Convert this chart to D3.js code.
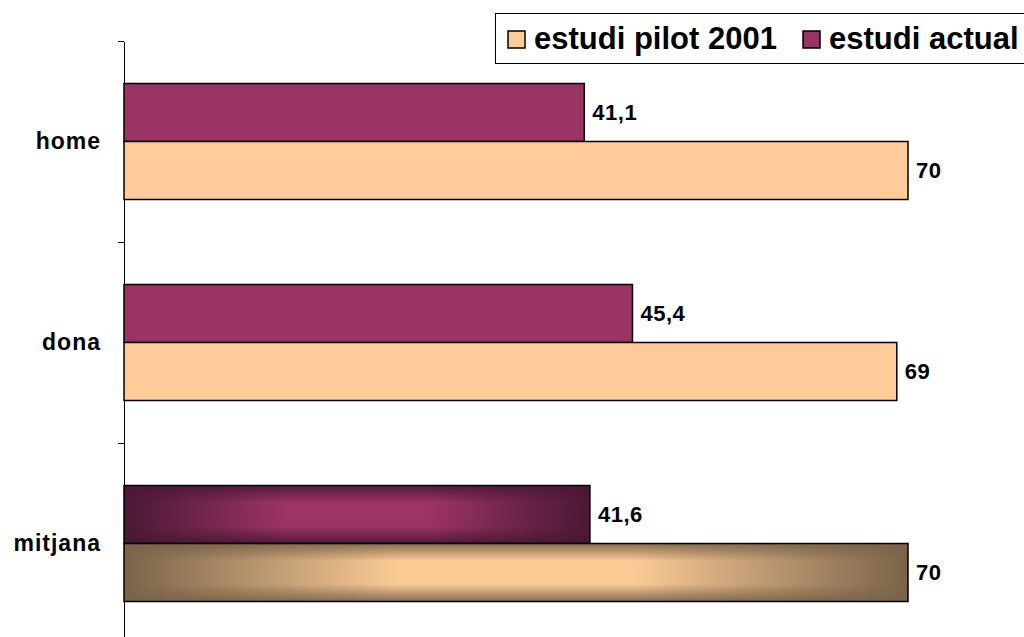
<html>
<head>
<script src="https://d3js.org/d3.v7.min.js"></script>
<style>
body { margin: 0; padding: 0; background: #fff; }
svg { display: block; font-family: Arial, "Liberation Sans", sans-serif; }
.axis path, .axis line { stroke: #000; stroke-width: 1; shape-rendering: crispEdges; }
.cat { font-size: 23px; font-weight: bold; fill: #000; letter-spacing: 1px; }
.val { font-size: 22px; font-weight: bold; fill: #000; letter-spacing: 0.5px; }
.leg { font-size: 31px; font-weight: bold; fill: #000; }
</style>
</head>
<body>
<script>
// data
var categories = ["home", "dona", "mitjana"];
var seriesNames = ["estudi actual", "estudi pilot 2001"];
var actual = [41.1, 45.4, 41.6];
var pilot = [70, 69, 70];
var labelsActual = ["41,1", "45,4", "41,6"];
var labelsPilot = ["70", "69", "70"];

var colors = { "estudi actual": "#993366", "estudi pilot 2001": "#FFCC99" };

var width = 1024, height = 637;

var svg = d3.select("body").append("svg")
    .attr("width", width)
    .attr("height", height);

var defs = svg.append("defs");

// gradients for the "mitjana" bars (dark edges, light centre)
function addGradients(id, edge, mid) {
    var h = defs.append("linearGradient").attr("id", id + "-h")
        .attr("x1", 0).attr("x2", 1).attr("y1", 0).attr("y2", 0);
    h.append("stop").attr("offset", "0%").attr("stop-color", edge);
    h.append("stop").attr("offset", "35%").attr("stop-color", mid);
    h.append("stop").attr("offset", "65%").attr("stop-color", mid);
    h.append("stop").attr("offset", "100%").attr("stop-color", edge);
    var v = defs.append("linearGradient").attr("id", id + "-v")
        .attr("x1", 0).attr("x2", 0).attr("y1", 0).attr("y2", 1);
    v.append("stop").attr("offset", "0%").attr("stop-color", edge).attr("stop-opacity", 0.9);
    v.append("stop").attr("offset", "30%").attr("stop-color", edge).attr("stop-opacity", 0);
    v.append("stop").attr("offset", "70%").attr("stop-color", edge).attr("stop-opacity", 0);
    v.append("stop").attr("offset", "100%").attr("stop-color", edge).attr("stop-opacity", 0.9);
}
addGradients("gActual", "#4a1834", "#9d3466");
addGradients("gPilot", "#7a6349", "#fbcb96");

var x = d3.scaleLinear().domain([0, 80]).range([124, 1020]);
var y = d3.scaleBand().domain(categories).range([41, 644]);
var inner = d3.scaleBand().domain(seriesNames).range([0, 116]);
var offset = (y.bandwidth() - 116) / 2;

// axis
var yAxis = d3.axisLeft(y).tickSize(0).tickFormat("");
svg.append("g").attr("class", "axis")
    .attr("transform", "translate(124,0)")
    .call(yAxis);
// ticks between categories
var tickYs = [41].concat(categories.map(function (c) { return y(c) + y.bandwidth(); }));
svg.selectAll(".tk").data(tickYs).enter().append("line")
    .attr("class", "tk")
    .attr("x1", 118).attr("x2", 124)
    .attr("y1", function (d) { return Math.round(d) + 0.5; })
    .attr("y2", function (d) { return Math.round(d) + 0.5; })
    .attr("stroke", "#000");

// bars
var rows = [];
categories.forEach(function (c, i) {
    rows.push({ cat: c, s: "estudi actual", v: actual[i], label: labelsActual[i], grad: "gActual", i: i });
    rows.push({ cat: c, s: "estudi pilot 2001", v: pilot[i], label: labelsPilot[i], grad: "gPilot", i: i });
});

var g = svg.append("g");
rows.forEach(function (d) {
    var yy = y(d.cat) + offset + inner(d.s);
    var h = inner.bandwidth();
    if (d.cat === "mitjana") {
        g.append("rect").attr("x", x(0)).attr("y", yy).attr("width", x(d.v) - x(0)).attr("height", h)
            .attr("fill", "url(#" + d.grad + "-h)");
        g.append("rect").attr("x", x(0)).attr("y", yy).attr("width", x(d.v) - x(0)).attr("height", h)
            .attr("fill", "url(#" + d.grad + "-v)");
        g.append("rect").attr("x", x(0)).attr("y", yy).attr("width", x(d.v) - x(0)).attr("height", h)
            .attr("fill", "none").attr("stroke", "#000").attr("stroke-width", 1.5);
    } else {
        g.append("rect").attr("x", x(0)).attr("y", yy).attr("width", x(d.v) - x(0)).attr("height", h)
            .attr("fill", colors[d.s]).attr("stroke", "#000").attr("stroke-width", 1.5);
    }
    g.append("text").attr("class", "val")
        .attr("x", x(d.v) + 8)
        .attr("y", yy + h / 2 + 7)
        .text(d.label);
});

// category labels
svg.selectAll(".cat").data(categories).enter().append("text")
    .attr("class", "cat")
    .attr("text-anchor", "end")
    .attr("x", 101)
    .attr("y", function (c) { return y(c) + y.bandwidth() / 2 + 7; })
    .text(function (c) { return c; });

// legend
var lg = svg.append("g");
lg.append("rect").attr("x", 495.5).attr("y", 13.5).attr("width", 540).attr("height", 50)
    .attr("fill", "#fff").attr("stroke", "#000").attr("stroke-width", 1);
var legItems = [
    { name: "estudi pilot 2001", x: 508 },
    { name: "estudi actual", x: 803 }
];
legItems.forEach(function (it) {
    lg.append("rect").attr("x", it.x).attr("y", 31).attr("width", 17).attr("height", 17)
        .attr("fill", colors[it.name]).attr("stroke", "#000").attr("stroke-width", 1.5);
    lg.append("text").attr("class", "leg").attr("x", it.x + 26).attr("y", 49).text(it.name);
});
</script>
</body>
</html>
